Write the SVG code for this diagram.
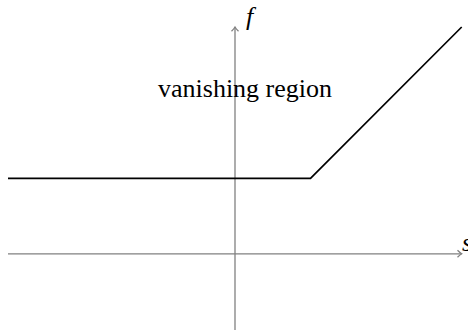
<svg xmlns="http://www.w3.org/2000/svg" width="468" height="331" viewBox="0 0 468 331">
<style>
.axis{stroke:#808080;stroke-width:1.3;fill:none}
.curve{stroke:#000;stroke-width:1.7;fill:none;stroke-linejoin:miter}
.lbl{font-family:"Liberation Serif","Times New Roman",serif;font-size:26px;fill:#000}
.it{font-style:italic}
</style>
<rect width="468" height="331" fill="#fff"/>
<g id="connectors">
<g id="s-axis">
<line class="axis" x1="8" y1="253.8" x2="461.5" y2="253.8"/>
<path class="axis" d="M457.5 250.3 Q460 252.8 461.7 253.8 Q460 254.8 457.5 257.3"/>
</g>
<g id="f-axis">
<line class="axis" x1="235" y1="330" x2="235" y2="27.3"/>
<path class="axis" d="M231.5 31.3 Q234 28.8 235 27 Q236 28.8 238.5 31.3"/>
</g>
</g>
<g id="graph">
<polyline class="curve" points="8,178.3 310.5,178.3 461.7,27"/>
</g>
<g id="label-f"><text class="lbl it" x="246" y="25">f</text></g>
<g id="label-s"><text class="lbl it" x="462" y="251">s</text></g>
<g id="label-vanishing"><text class="lbl" x="158" y="97">vanishing region</text></g>
</svg>
